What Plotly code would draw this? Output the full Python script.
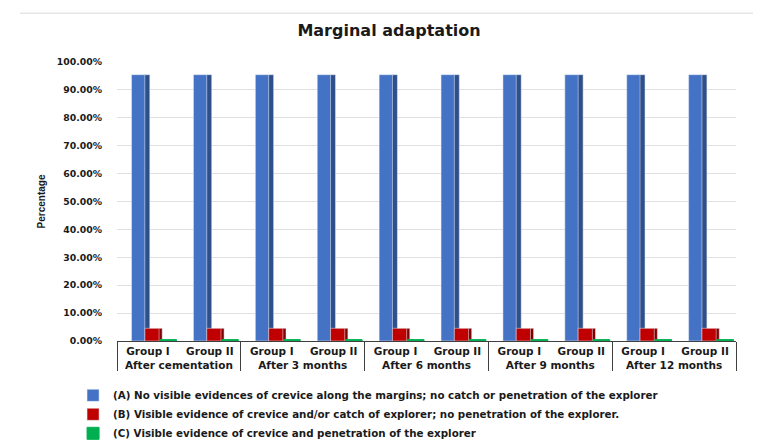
import plotly.graph_objects as go

periods = ["After cementation", "After 3 months", "After 6 months", "After 9 months", "After 12 months"]
groups = ["Group I", "Group II"]
series_names = [
    "(A) No visible evidences of crevice along the margins; no catch or penetration of the explorer",
    "(B) Visible evidence of crevice and/or catch of explorer; no penetration of the explorer.",
    "(C) Visible evidence of crevice and penetration of the explorer",
]
vals_a = [0.9545] * 10
vals_b = [0.0455] * 10
vals_c = [0.005] * 10

outer = [p for p in periods for _ in groups]
inner = [g for _ in periods for g in groups]
x = [outer, inner]

front = ["#4472C4", "#C00000", "#00B050"]
side = ["#2F4F8A", "#7F0000", "#00803A"]

fig = go.Figure()
fig.add_trace(go.Bar(x=x, y=vals_a, marker_color=side[0], offset=-0.06, width=0.09,
                     showlegend=False, hoverinfo="skip"))
fig.add_trace(go.Bar(x=x, y=vals_a, name=series_names[0], marker_color=front[0],
                     offset=-0.265, width=0.215))
fig.add_trace(go.Bar(x=x, y=vals_b, marker_color=side[1], offset=0.17, width=0.06,
                     showlegend=False, hoverinfo="skip"))
fig.add_trace(go.Bar(x=x, y=vals_b, name=series_names[1], marker_color=front[1],
                     offset=-0.05, width=0.23))
fig.add_trace(go.Bar(x=x, y=vals_c, name=series_names[2], marker_color=front[2],
                     marker_line=dict(color=front[2], width=1),
                     offset=0.19, width=0.27))

# page has an 8px body margin, so the figure is sized/positioned to compensate
fig.update_layout(
    width=753, height=433,
    barmode="overlay",
    paper_bgcolor="white", plot_bgcolor="white",
    margin=dict(l=109, r=25, t=54, b=100, autoexpand=False),
    title=dict(text="Marginal adaptation", x=0.506, xanchor="center", y=0.949, yanchor="middle",
               font=dict(family="DejaVu Sans", size=16, color="#1a1a1a", weight="bold")),
    xaxis=dict(type="multicategory", showline=True, linecolor="#404040", linewidth=1,
               showdividers=True, dividercolor="#404040", dividerwidth=1, automargin=False,
               ticks="outside", ticklen=11, tickcolor="rgba(0,0,0,0)",
               tickfont=dict(family="DejaVu Sans", size=10.5, color="#1a1a1a", weight="bold"),
               showgrid=False),
    yaxis=dict(range=[0, 1], dtick=0.1, tickformat=".2%", showgrid=True, gridcolor="#e0e0e0",
               zeroline=False, showline=False, ticks="", automargin=False, ticklabelstandoff=14,
               tickfont=dict(family="DejaVu Sans", size=9.3, color="#1a1a1a", weight="bold"),
               title=dict(text="Percentage", standoff=9,
                          font=dict(family="Liberation Sans", size=10, color="#1a1a1a", weight="bold"))),
    legend=dict(orientation="v", x=-0.071, xanchor="left", yref="container", y=0.139, yanchor="top",
                font=dict(family="DejaVu Sans", size=10.3, color="#1a1a1a", weight="bold"),
                itemwidth=30, bgcolor="rgba(0,0,0,0)", tracegroupgap=0),
    shapes=[dict(type="line", xref="paper", yref="paper", x0=-0.157, x1=1.039, y0=1.175, y1=1.175,
                 line=dict(color="#e6e6e6", width=1.5))],
)
fig.write_html("out.html")
